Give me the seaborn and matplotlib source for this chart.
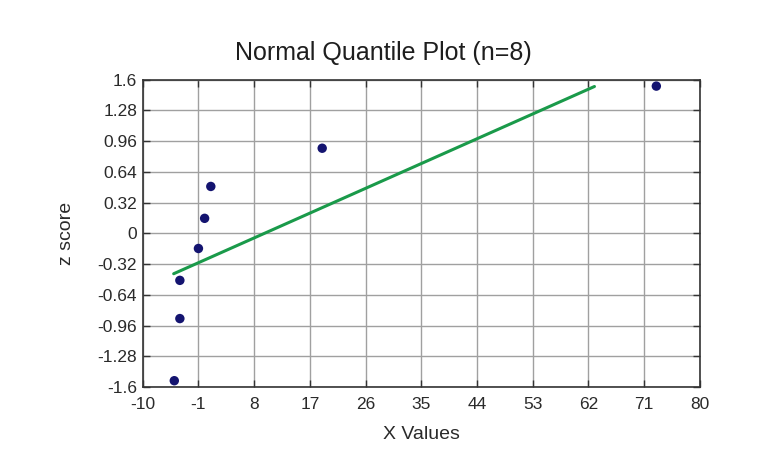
import numpy as np
import pandas as pd
import matplotlib
matplotlib.use("Agg")
import matplotlib.pyplot as plt
import seaborn as sns

# -------------------
# Data
# -------------------
x_values = [-4.9, -4.0, -4.0, -1.0, 0.0, 1.0, 19.0, 73.0]
z_scores = [-1.534, -0.887, -0.489, -0.157, 0.157, 0.489, 0.887, 1.534]

# reference line endpoints
line_x = [-5.0, 63.0]
line_z = [-0.42, 1.53]

x_ticks = [-10, -1, 8, 17, 26, 35, 44, 53, 62, 71, 80]
y_ticks = [-1.6, -1.28, -0.96, -0.64, -0.32, 0, 0.32, 0.64, 0.96, 1.28, 1.6]
y_tick_labels = ["-1.6", "-1.28", "-0.96", "-0.64", "-0.32", "0",
                 "0.32", "0.64", "0.96", "1.28", "1.6"]

points = pd.DataFrame({"x": x_values, "z": z_scores})
fit = pd.DataFrame({"x": line_x, "z": line_z})

# -------------------
# Plot
# -------------------
sns.set_style("white")
plt.rcParams['font.family'] = ['Liberation Sans', 'DejaVu Sans']

fig = plt.figure(figsize=(7.8, 4.72), dpi=100)
ax = fig.add_axes([0.183, 0.18, 0.714, 0.651])

sns.lineplot(data=fit, x="x", y="z", color="#1a9a4a", linewidth=2.2, ax=ax, zorder=3)
sns.scatterplot(data=points, x="x", y="z", color="#141470", s=46,
                edgecolor="none", ax=ax, zorder=4)

ax.set_xlim(-10, 80)
ax.set_ylim(-1.6, 1.6)
ax.set_xticks(x_ticks)
ax.set_xticklabels([str(t) for t in x_ticks])
ax.set_yticks(y_ticks)
ax.set_yticklabels(y_tick_labels)
ax.grid(True, color="#a0a0a0", linewidth=1)
ax.set_axisbelow(True)
ax.tick_params(direction="in", length=5, width=1, color="#333333",
               labelsize=12.5, labelcolor="#2a2a2a", top=True, right=True,
               bottom=True, left=True, labeltop=False, labelright=False)
ax.tick_params(axis="x", pad=7)
ax.tick_params(axis="y", pad=4)
for s in ax.spines.values():
    s.set_color("#333333")
    s.set_linewidth(1.2)

fig.text(383 / 780, 1 - 53 / 472, "Normal Quantile Plot (n=8)", fontsize=18,
         color="#1e1e1e", ha="center", va="center")
ax.set_xlabel("X Values", fontsize=14, color="#2a2a2a", labelpad=10)
ax.set_ylabel("z score", fontsize=14, color="#2a2a2a", labelpad=16)

fig.savefig("out.png", dpi=100, facecolor="white")
